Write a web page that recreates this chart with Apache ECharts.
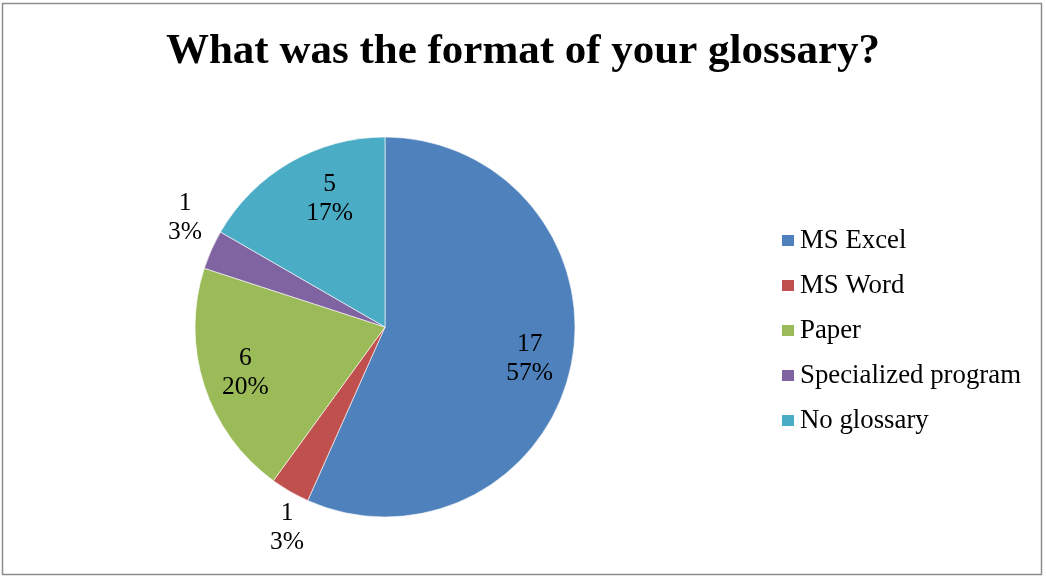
<!DOCTYPE html>
<html><head><meta charset="utf-8">
<script src="https://cdn.jsdelivr.net/npm/echarts@6/dist/echarts.min.js"></script>
<style>html,body{margin:0;padding:0;background:#fff}#c{width:1046px;height:577px}</style>
</head><body><div id="c"></div>
<script>
const categories = ['MS Excel', 'MS Word', 'Paper', 'Specialized program', 'No glossary'];
const values = [17, 1, 6, 1, 5];
const colors = ['#4F81BD', '#C0504D', '#9BBB59', '#8064A2', '#4BACC6'];
const insideLabel = [true, false, true, false, true];

const font = 'Liberation Serif, Times New Roman, serif';
const C = [385, 327], R = 190;
// fine label nudges (layout, not data)
const labelNudge = [[-3, 0], [18, 0], [4, -1], [12, -15], [20, 3]];

const chart = echarts.init(document.getElementById('c'));
const labelStyle = { fontFamily: font, fontSize: 25.5, color: '#000', lineHeight: 29, formatter: p => p.value + '\n' + Math.round(p.percent) + '%' };

function overlay(inner, r0, r1) {
  return {
    type: 'pie', center: C, radius: [r0, r1], silent: true, animation: false,
    startAngle: 90, clockwise: true, z: 5,
    itemStyle: { color: 'rgba(0,0,0,0)', borderWidth: 0 },
    label: Object.assign({ position: 'inside' }, labelStyle),
    labelLine: { show: false },
    data: values.map((v, i) => ({ name: 'lbl' + i, value: v, label: { show: insideLabel[i] === inner, offset: labelNudge[i] } }))
  };
}

chart.setOption({
  backgroundColor: '#fff',
  animation: false,
  title: {
    text: 'What was the format of your glossary?', left: 'center', top: 25,
    textStyle: { fontFamily: font, fontSize: 43, fontWeight: 'bold', color: '#000' }
  },
  legend: {
    data: categories, orient: 'vertical', left: 775, top: 222,
    icon: 'rect', itemWidth: 14, itemHeight: 13, itemGap: 18,
    textStyle: { fontFamily: font, fontSize: 26.8, color: '#000', lineHeight: 27, padding: [0, 0, 0, 0] }
  },
  graphic: [{ type: 'rect', shape: { x: 2.5, y: 3.5, width: 1039, height: 571 }, style: { fill: 'none', stroke: '#8c8c8c', lineWidth: 1.5 }, silent: true }],
  series: [
    {
      type: 'pie', center: C, radius: R, startAngle: 90, clockwise: true,
      itemStyle: { borderColor: '#fff', borderWidth: 0.6 },
      label: { show: false }, labelLine: { show: false },
      data: values.map((v, i) => ({ name: categories[i], value: v, itemStyle: { color: colors[i] } }))
    },
    overlay(true, 106, R),
    overlay(false, R, 268)
  ]
});
</script></body></html>
